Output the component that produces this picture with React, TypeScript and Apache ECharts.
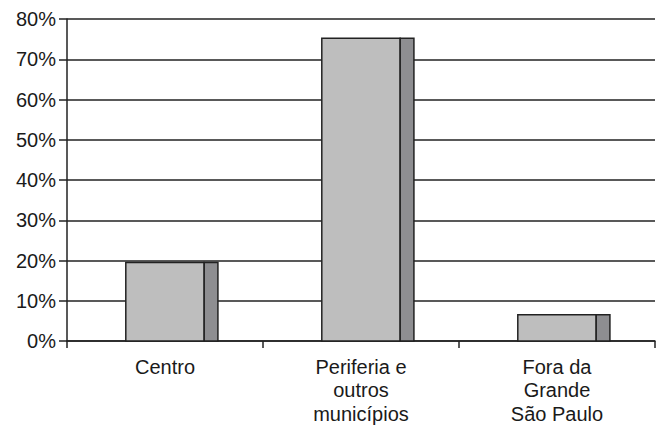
import React, { useEffect, useRef } from "react";
import * as echarts from "echarts";

const categories = ["Centro", "Periferia e\noutros\nmunicípios", "Fora da\nGrande\nSão Paulo"];
const values = [19.5, 75.2, 6.5];
const yTicks = [0, 10, 20, 30, 40, 50, 60, 70, 80];

export default function App() {
  const ref = useRef<HTMLDivElement>(null);
  useEffect(() => {
    const chart = echarts.init(ref.current!, null, { renderer: "svg" });
    const font = "'Liberation Sans', Arial, sans-serif";
    chart.setOption({
      animation: false,
      backgroundColor: "#ffffff",
      grid: { left: 67, right: 3, top: 19, bottom: 86 },
      xAxis: {
        type: "category",
        data: categories,
        boundaryGap: true,
        axisLine: { show: true, lineStyle: { color: "#222", width: 1.5 } },
        axisTick: { show: true, alignWithLabel: false, length: 7, lineStyle: { color: "#222", width: 1.5 } },
        axisLabel: { color: "#1a1a1a", fontFamily: font, fontSize: 20, lineHeight: 23.5, margin: 14 },
      },
      yAxis: {
        type: "value",
        min: yTicks[0],
        max: yTicks[yTicks.length - 1],
        interval: 10,
        axisLine: { show: true, lineStyle: { color: "#222", width: 1.5 } },
        axisTick: { show: true, length: 8, lineStyle: { color: "#222", width: 1.5 } },
        axisLabel: { color: "#1a1a1a", fontFamily: font, fontSize: 20, margin: 11, formatter: (v: number) => v + "%" },
        splitLine: { show: true, lineStyle: { color: "#222", width: 1.5 } },
      },
      series: [
        {
          type: "custom",
          data: values.map((v, i) => [i, v]),
          encode: { x: 0, y: 1 },
          renderItem: (params: any, api: any) => {
            const idx = api.value(0);
            const v = api.value(1);
            const base = api.coord([idx, 0]);
            const top = api.coord([idx, v]);
            const band = api.size([1, 0])[0];
            const fw = band * 0.4;
            const sw = band * 0.07;
            const x0 = base[0] - fw / 2;
            const h = base[1] - top[1];
            return {
              type: "group",
              children: [
                {
                  type: "rect",
                  shape: { x: x0, y: top[1], width: fw, height: h },
                  style: { fill: "#bebebe", stroke: "#222", lineWidth: 1.5 },
                },
                {
                  type: "rect",
                  shape: { x: x0 + fw, y: top[1], width: sw, height: h },
                  style: { fill: "#8e8e91", stroke: "#222", lineWidth: 1.5 },
                },
              ],
            };
          },
        },
      ],
    });
    return () => chart.dispose();
  }, []);
  return <div ref={ref} style={{ width: 658, height: 427, position: "absolute", left: 0, top: 0 }} />;
}
